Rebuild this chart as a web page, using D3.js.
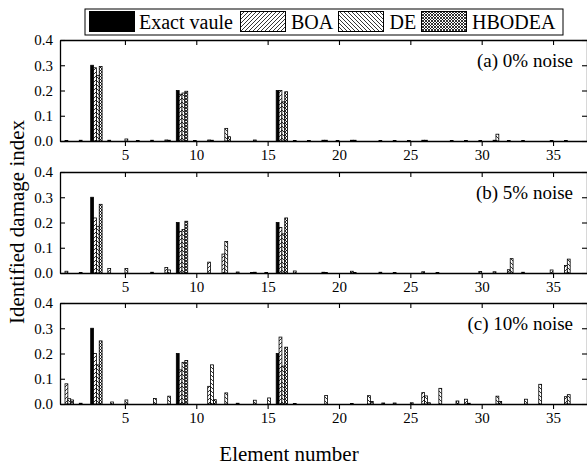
<!DOCTYPE html>
<html>
<head>
<meta charset="utf-8">
<script src="https://cdn.jsdelivr.net/npm/d3@7"></script>
<style>
  body { margin: 0; background: #fff; }
  svg { display: block; font-family: "Liberation Serif", "Times New Roman", serif; }
</style>
</head>
<body>
<div id="chart"></div>
<script>
// element numbers 1..37
var elements = d3.range(1, 38);

var seriesNames = ["Exact vaule", "BOA", "DE", "HBODEA"];

// true damage
var exactValue = [0, 0, 0.3, 0, 0, 0, 0, 0, 0.2, 0,
                  0, 0, 0, 0, 0, 0.2, 0, 0, 0, 0,
                  0, 0, 0, 0, 0, 0, 0, 0, 0, 0,
                  0, 0, 0, 0, 0, 0, 0];

// (a) 0% noise
var boa0 = [0.002, 0.003, 0.29, 0.003, 0, 0.002, 0.003, 0.004, 0.185, 0.002,
            0.004, 0, 0, 0, 0, 0.2, 0.002, 0.002, 0.003, 0.002,
            0.003, 0, 0.002, 0.002, 0.002, 0.003, 0, 0.002, 0.002, 0.002,
            0.003, 0.002, 0.002, 0, 0.002, 0.002, 0];
var de0 = [0, 0, 0.26, 0, 0.008, 0, 0, 0.003, 0.19, 0,
           0.003, 0.05, 0, 0.004, 0, 0.155, 0, 0, 0.003, 0,
           0.003, 0, 0, 0, 0, 0.003, 0, 0, 0, 0,
           0.027, 0, 0, 0, 0, 0, 0];
var hbodea0 = [0, 0, 0.295, 0, 0, 0, 0, 0, 0.197, 0,
               0, 0.017, 0, 0, 0, 0.195, 0, 0, 0, 0,
               0, 0, 0, 0, 0, 0, 0, 0, 0, 0,
               0, 0, 0, 0, 0, 0, 0];

// (b) 5% noise
var boa5 = [0.007, 0.002, 0.218, 0.018, 0, 0, 0.003, 0.022, 0.165, 0,
            0.043, 0.075, 0.004, 0.002, 0.002, 0.18, 0.008, 0, 0.003, 0,
            0.007, 0, 0.003, 0.002, 0, 0.005, 0.002, 0, 0, 0.006,
            0.005, 0.013, 0.003, 0, 0.012, 0.03, 0];
var de5 = [0, 0, 0.185, 0, 0.018, 0, 0, 0.012, 0.172, 0,
           0, 0.125, 0, 0.003, 0, 0.155, 0, 0, 0.002, 0,
           0.002, 0, 0, 0, 0, 0, 0, 0, 0, 0,
           0, 0.057, 0, 0, 0, 0.055, 0];
var hbodea5 = [0, 0, 0.272, 0, 0, 0, 0, 0, 0.205, 0,
               0, 0, 0, 0, 0, 0.218, 0, 0, 0, 0,
               0, 0, 0, 0, 0, 0, 0, 0, 0, 0,
               0, 0, 0, 0, 0, 0, 0];

// (c) 10% noise
var boa10 = [0.08, 0.003, 0.2, 0, 0, 0, 0, 0, 0.135, 0,
             0.07, 0, 0.003, 0, 0, 0.265, 0.002, 0, 0, 0,
             0.002, 0, 0, 0.004, 0, 0.045, 0, 0, 0.019, 0,
             0, 0, 0, 0, 0, 0.029, 0];
var de10 = [0.021, 0, 0.155, 0.008, 0.016, 0, 0.022, 0.031, 0.165, 0,
            0.155, 0.044, 0, 0.015, 0.024, 0.15, 0, 0, 0.034, 0,
            0, 0.033, 0.004, 0, 0.005, 0.032, 0.062, 0, 0.003, 0,
            0.031, 0, 0.019, 0.078, 0, 0.037, 0];
var hbodea10 = [0.016, 0, 0.25, 0, 0, 0, 0, 0, 0.172, 0,
                0.017, 0, 0, 0, 0, 0.225, 0, 0, 0, 0,
                0, 0.01, 0, 0, 0, 0.005, 0, 0.012, 0, 0,
                0.01, 0, 0, 0, 0, 0, 0];

var panelLabels = ["(a) 0% noise", "(b) 5% noise", "(c) 10% noise"];
var panelSeries = [
    [exactValue, boa0, de0, hbodea0],
    [exactValue, boa5, de5, hbodea5],
    [exactValue, boa10, de10, hbodea10]
];

var yTicks = [0, 0.1, 0.2, 0.3, 0.4];
var xTicks = [5, 10, 15, 20, 25, 30, 35];

var w = 587, h = 468;
var left = 60, right = 587;
var panelTops = [40, 172, 303];
var panelH = 101;

var svg = d3.select("#chart").append("svg")
    .attr("width", w)
    .attr("height", h);

// hatch patterns
var defs = svg.append("defs");
function hatch(id, paths, size) {
    var p = defs.append("pattern")
        .attr("id", id)
        .attr("patternUnits", "userSpaceOnUse")
        .attr("width", size)
        .attr("height", size);
    p.append("rect").attr("width", size).attr("height", size).attr("fill", "#fff");
    paths.forEach(function (d) {
        p.append("path").attr("d", d).attr("stroke", "#000").attr("stroke-width", 0.8);
    });
}
hatch("boa", ["M-1,1 L1,-1 M0,4 L4,0 M3,5 L5,3"], 4);
hatch("de", ["M-1,3 L1,5 M0,0 L4,4 M3,-1 L5,1"], 4);
hatch("hbodea", ["M-1,1 L1,-1 M0,3 L3,0 M2,4 L4,2", "M-1,2 L1,4 M0,0 L3,3 M2,-1 L4,1"], 3);

var fills = ["#000", "url(#boa)", "url(#de)", "url(#hbodea)"];

var x = d3.scaleLinear()
    .domain([0.45, 37.38])
    .range([left, right]);

// position of each series inside an element group (in element units)
var sub = d3.scaleBand()
    .domain(d3.range(seriesNames.length))
    .range([-0.4, 0.4]);
var barW = x(sub.bandwidth()) - x(0);

panelTops.forEach(function (top, p) {
    var y = d3.scaleLinear().domain([0, 0.4]).range([top + panelH, top]);
    var g = svg.append("g");

    panelSeries[p].forEach(function (vals, s) {
        g.append("g")
            .selectAll("rect")
            .data(elements.filter(function (e) { return vals[e - 1] > 0; }))
            .enter()
            .append("rect")
            .attr("x", function (e) { return x(e + sub(s)); })
            .attr("y", function (e) { return y(vals[e - 1]); })
            .attr("width", barW)
            .attr("height", function (e) { return y(0) - y(vals[e - 1]); })
            .attr("fill", fills[s])
            .attr("stroke", "#000")
            .attr("stroke-width", 0.8);
    });

    // axes
    var bottom = g.append("g")
        .attr("transform", "translate(0," + (top + panelH) + ")")
        .call(d3.axisBottom(x).tickValues(xTicks).tickSize(5).tickSizeOuter(0).tickPadding(3));
    var topAx = g.append("g")
        .attr("transform", "translate(0," + top + ")")
        .call(d3.axisTop(x).tickValues(xTicks).tickSize(-5).tickSizeOuter(0).tickFormat(""));
    var leftAx = g.append("g")
        .attr("transform", "translate(" + left + ",0)")
        .call(d3.axisLeft(y).tickValues(yTicks).tickSize(-5).tickSizeOuter(0).tickPadding(7).tickFormat(d3.format(".1f")));
    var rightAx = g.append("g")
        .attr("transform", "translate(" + right + ",0)")
        .call(d3.axisRight(y).tickValues(yTicks).tickSize(-5).tickSizeOuter(0).tickFormat(""));

    [bottom, topAx, leftAx, rightAx].forEach(function (a) {
        a.select(".domain").attr("stroke-width", 1.3);
        a.selectAll(".tick line").attr("stroke-width", 1.1);
        a.selectAll("text")
            .attr("font-family", "Liberation Serif")
            .attr("font-size", 15)
            .attr("fill", "#000");
    });

    g.append("text")
        .attr("x", 573)
        .attr("y", top + 27)
        .attr("text-anchor", "end")
        .attr("font-size", 19)
        .text(panelLabels[p]);
});

// legend
var legend = svg.append("g");
legend.append("rect")
    .attr("x", 85).attr("y", 9)
    .attr("width", 478).attr("height", 26)
    .attr("fill", "#fff")
    .attr("stroke", "#000")
    .attr("stroke-width", 1);
var swatchX = [89.5, 240.5, 338.5, 421.5];
var textX = [139, 291, 389.5, 472];
seriesNames.forEach(function (name, i) {
    legend.append("rect")
        .attr("x", swatchX[i]).attr("y", 11.5)
        .attr("width", 45).attr("height", 20)
        .attr("fill", fills[i])
        .attr("stroke", "#000")
        .attr("stroke-width", 1);
    legend.append("text")
        .attr("x", textX[i]).attr("y", 29)
        .attr("font-size", 20)
        .text(name);
});

// axis titles
svg.append("text")
    .attr("transform", "translate(24,222) rotate(-90)")
    .attr("text-anchor", "middle")
    .attr("font-size", 21)
    .text("Identified damage index");

svg.append("text")
    .attr("x", 289)
    .attr("y", 461)
    .attr("text-anchor", "middle")
    .attr("font-size", 21)
    .text("Element number");
</script>
</body>
</html>
